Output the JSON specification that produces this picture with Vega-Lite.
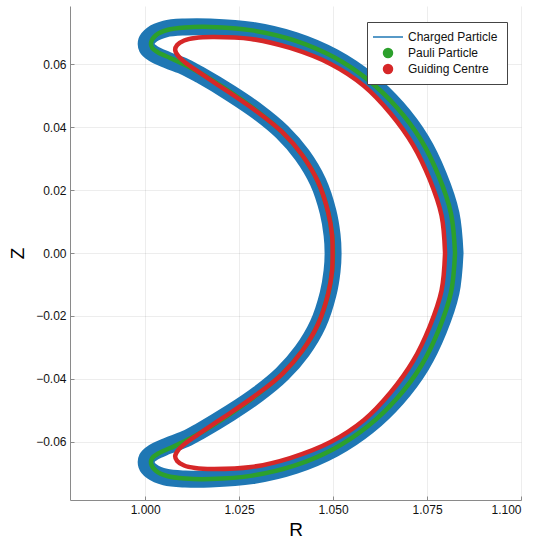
{
  "$schema": "https://vega.github.io/schema/vega-lite/v6.json",
  "width": 451,
  "height": 494,
  "autosize": {"type": "none"},
  "padding": {"left": 70, "top": 6, "right": 18, "bottom": 39},
  "background": "white",
  "config": {
    "view": {"stroke": null},
    "font": "Liberation Sans",
    "axis": {
      "domainColor": "#8a8a8a",
      "tickColor": "#8a8a8a",
      "tickSize": -4,
      "gridColor": "#000000",
      "gridOpacity": 0.07,
      "labelFont": "Liberation Sans",
      "labelFontSize": 12,
      "labelColor": "#111111",
      "titleFont": "Liberation Sans",
      "titleFontSize": 19,
      "titleFontWeight": "normal",
      "titleColor": "#000000"
    }
  },
  "data": {
    "values": [
      {"s":"Charged Particle","i":0,"R":1.08245,"Z":0},
      {"s":"Charged Particle","i":1,"R":1.08138,"Z":0.01251},
      {"s":"Charged Particle","i":2,"R":1.07806,"Z":0.0246},
      {"s":"Charged Particle","i":3,"R":1.0734,"Z":0.03596},
      {"s":"Charged Particle","i":4,"R":1.06702,"Z":0.04624},
      {"s":"Charged Particle","i":5,"R":1.05931,"Z":0.05509},
      {"s":"Charged Particle","i":6,"R":1.05027,"Z":0.06229},
      {"s":"Charged Particle","i":7,"R":1.03989,"Z":0.0676},
      {"s":"Charged Particle","i":8,"R":1.02846,"Z":0.07085},
      {"s":"Charged Particle","i":9,"R":1.01729,"Z":0.07193},
      {"s":"Charged Particle","i":10,"R":1.01064,"Z":0.07193},
      {"s":"Charged Particle","i":11,"R":1.00532,"Z":0.07129},
      {"s":"Charged Particle","i":12,"R":1.00186,"Z":0.06954},
      {"s":"Charged Particle","i":13,"R":1.0004,"Z":0.06747},
      {"s":"Charged Particle","i":14,"R":1.00053,"Z":0.06525},
      {"s":"Charged Particle","i":15,"R":1.00213,"Z":0.0635},
      {"s":"Charged Particle","i":16,"R":1.00585,"Z":0.06143},
      {"s":"Charged Particle","i":17,"R":1.01064,"Z":0.0592},
      {"s":"Charged Particle","i":18,"R":1.01463,"Z":0.05665},
      {"s":"Charged Particle","i":19,"R":1.02261,"Z":0.05092},
      {"s":"Charged Particle","i":20,"R":1.03005,"Z":0.04488},
      {"s":"Charged Particle","i":21,"R":1.03644,"Z":0.03851},
      {"s":"Charged Particle","i":22,"R":1.04176,"Z":0.03119},
      {"s":"Charged Particle","i":23,"R":1.04601,"Z":0.0226},
      {"s":"Charged Particle","i":24,"R":1.04867,"Z":0.01305},
      {"s":"Charged Particle","i":25,"R":1.04973,"Z":0.00573},
      {"s":"Charged Particle","i":26,"R":1.05,"Z":0},
      {"s":"Charged Particle","i":27,"R":1.04973,"Z":-0.00573},
      {"s":"Charged Particle","i":28,"R":1.04867,"Z":-0.01305},
      {"s":"Charged Particle","i":29,"R":1.04601,"Z":-0.0226},
      {"s":"Charged Particle","i":30,"R":1.04176,"Z":-0.03119},
      {"s":"Charged Particle","i":31,"R":1.03644,"Z":-0.03851},
      {"s":"Charged Particle","i":32,"R":1.03005,"Z":-0.04488},
      {"s":"Charged Particle","i":33,"R":1.02261,"Z":-0.05092},
      {"s":"Charged Particle","i":34,"R":1.01463,"Z":-0.05665},
      {"s":"Charged Particle","i":35,"R":1.01064,"Z":-0.0592},
      {"s":"Charged Particle","i":36,"R":1.00585,"Z":-0.06143},
      {"s":"Charged Particle","i":37,"R":1.00213,"Z":-0.0635},
      {"s":"Charged Particle","i":38,"R":1.00053,"Z":-0.06525},
      {"s":"Charged Particle","i":39,"R":1.0004,"Z":-0.06747},
      {"s":"Charged Particle","i":40,"R":1.00186,"Z":-0.06954},
      {"s":"Charged Particle","i":41,"R":1.00532,"Z":-0.07129},
      {"s":"Charged Particle","i":42,"R":1.01064,"Z":-0.07193},
      {"s":"Charged Particle","i":43,"R":1.01729,"Z":-0.07193},
      {"s":"Charged Particle","i":44,"R":1.02846,"Z":-0.07085},
      {"s":"Charged Particle","i":45,"R":1.03989,"Z":-0.0676},
      {"s":"Charged Particle","i":46,"R":1.05027,"Z":-0.06229},
      {"s":"Charged Particle","i":47,"R":1.05931,"Z":-0.05509},
      {"s":"Charged Particle","i":48,"R":1.06702,"Z":-0.04624},
      {"s":"Charged Particle","i":49,"R":1.0734,"Z":-0.03596},
      {"s":"Charged Particle","i":50,"R":1.07806,"Z":-0.0246},
      {"s":"Charged Particle","i":51,"R":1.08138,"Z":-0.01251},
      {"s":"Charged Particle","i":52,"R":1.08245,"Z":0},

      {"s":"Pauli Particle","i":0,"R":1.08245,"Z":0},
      {"s":"Pauli Particle","i":1,"R":1.08138,"Z":0.01251},
      {"s":"Pauli Particle","i":2,"R":1.07806,"Z":0.0246},
      {"s":"Pauli Particle","i":3,"R":1.0734,"Z":0.03596},
      {"s":"Pauli Particle","i":4,"R":1.06702,"Z":0.04624},
      {"s":"Pauli Particle","i":5,"R":1.05931,"Z":0.05509},
      {"s":"Pauli Particle","i":6,"R":1.05027,"Z":0.06229},
      {"s":"Pauli Particle","i":7,"R":1.03989,"Z":0.0676},
      {"s":"Pauli Particle","i":8,"R":1.02846,"Z":0.07085},
      {"s":"Pauli Particle","i":9,"R":1.01729,"Z":0.07193},
      {"s":"Pauli Particle","i":10,"R":1.01064,"Z":0.07177},
      {"s":"Pauli Particle","i":11,"R":1.00585,"Z":0.07097},
      {"s":"Pauli Particle","i":12,"R":1.00293,"Z":0.06938},
      {"s":"Pauli Particle","i":13,"R":1.0016,"Z":0.06716},
      {"s":"Pauli Particle","i":14,"R":1.00186,"Z":0.06525},
      {"s":"Pauli Particle","i":15,"R":1.00346,"Z":0.06381},
      {"s":"Pauli Particle","i":16,"R":1.00665,"Z":0.06206},
      {"s":"Pauli Particle","i":17,"R":1.01064,"Z":0.05984},
      {"s":"Pauli Particle","i":18,"R":1.01463,"Z":0.05729},
      {"s":"Pauli Particle","i":19,"R":1.02261,"Z":0.05124},
      {"s":"Pauli Particle","i":20,"R":1.03005,"Z":0.04488},
      {"s":"Pauli Particle","i":21,"R":1.03644,"Z":0.03851},
      {"s":"Pauli Particle","i":22,"R":1.04176,"Z":0.03119},
      {"s":"Pauli Particle","i":23,"R":1.04601,"Z":0.0226},
      {"s":"Pauli Particle","i":24,"R":1.04867,"Z":0.01305},
      {"s":"Pauli Particle","i":25,"R":1.04973,"Z":0.00573},
      {"s":"Pauli Particle","i":26,"R":1.05,"Z":0},
      {"s":"Pauli Particle","i":27,"R":1.04973,"Z":-0.00573},
      {"s":"Pauli Particle","i":28,"R":1.04867,"Z":-0.01305},
      {"s":"Pauli Particle","i":29,"R":1.04601,"Z":-0.0226},
      {"s":"Pauli Particle","i":30,"R":1.04176,"Z":-0.03119},
      {"s":"Pauli Particle","i":31,"R":1.03644,"Z":-0.03851},
      {"s":"Pauli Particle","i":32,"R":1.03005,"Z":-0.04488},
      {"s":"Pauli Particle","i":33,"R":1.02261,"Z":-0.05124},
      {"s":"Pauli Particle","i":34,"R":1.01463,"Z":-0.05729},
      {"s":"Pauli Particle","i":35,"R":1.01064,"Z":-0.05984},
      {"s":"Pauli Particle","i":36,"R":1.00665,"Z":-0.06206},
      {"s":"Pauli Particle","i":37,"R":1.00346,"Z":-0.06381},
      {"s":"Pauli Particle","i":38,"R":1.00186,"Z":-0.06525},
      {"s":"Pauli Particle","i":39,"R":1.0016,"Z":-0.06716},
      {"s":"Pauli Particle","i":40,"R":1.00293,"Z":-0.06938},
      {"s":"Pauli Particle","i":41,"R":1.00585,"Z":-0.07097},
      {"s":"Pauli Particle","i":42,"R":1.01064,"Z":-0.07177},
      {"s":"Pauli Particle","i":43,"R":1.01729,"Z":-0.07193},
      {"s":"Pauli Particle","i":44,"R":1.02846,"Z":-0.07085},
      {"s":"Pauli Particle","i":45,"R":1.03989,"Z":-0.0676},
      {"s":"Pauli Particle","i":46,"R":1.05027,"Z":-0.06229},
      {"s":"Pauli Particle","i":47,"R":1.05931,"Z":-0.05509},
      {"s":"Pauli Particle","i":48,"R":1.06702,"Z":-0.04624},
      {"s":"Pauli Particle","i":49,"R":1.0734,"Z":-0.03596},
      {"s":"Pauli Particle","i":50,"R":1.07806,"Z":-0.0246},
      {"s":"Pauli Particle","i":51,"R":1.08138,"Z":-0.01251},
      {"s":"Pauli Particle","i":52,"R":1.08245,"Z":0},

      {"s":"Guiding Centre","i":0,"R":1.07979,"Z":0},
      {"s":"Guiding Centre","i":1,"R":1.07886,"Z":0.01194},
      {"s":"Guiding Centre","i":2,"R":1.07566,"Z":0.02355},
      {"s":"Guiding Centre","i":3,"R":1.07128,"Z":0.03437},
      {"s":"Guiding Centre","i":4,"R":1.06529,"Z":0.0444},
      {"s":"Guiding Centre","i":5,"R":1.05824,"Z":0.05315},
      {"s":"Guiding Centre","i":6,"R":1.04934,"Z":0.06015},
      {"s":"Guiding Centre","i":7,"R":1.03856,"Z":0.06525},
      {"s":"Guiding Centre","i":8,"R":1.02819,"Z":0.06811},
      {"s":"Guiding Centre","i":9,"R":1.01782,"Z":0.06875},
      {"s":"Guiding Centre","i":10,"R":1.0133,"Z":0.06843},
      {"s":"Guiding Centre","i":11,"R":1.01037,"Z":0.06763},
      {"s":"Guiding Centre","i":12,"R":1.00851,"Z":0.0662},
      {"s":"Guiding Centre","i":13,"R":1.00798,"Z":0.06461},
      {"s":"Guiding Centre","i":14,"R":1.00878,"Z":0.0627},
      {"s":"Guiding Centre","i":15,"R":1.01064,"Z":0.06063},
      {"s":"Guiding Centre","i":16,"R":1.01383,"Z":0.05793},
      {"s":"Guiding Centre","i":17,"R":1.01835,"Z":0.05427},
      {"s":"Guiding Centre","i":18,"R":1.02261,"Z":0.05092},
      {"s":"Guiding Centre","i":19,"R":1.03005,"Z":0.04472},
      {"s":"Guiding Centre","i":20,"R":1.03644,"Z":0.03851},
      {"s":"Guiding Centre","i":21,"R":1.04176,"Z":0.03119},
      {"s":"Guiding Centre","i":22,"R":1.04601,"Z":0.0226},
      {"s":"Guiding Centre","i":23,"R":1.04867,"Z":0.01305},
      {"s":"Guiding Centre","i":24,"R":1.04973,"Z":0.00573},
      {"s":"Guiding Centre","i":25,"R":1.04987,"Z":0},
      {"s":"Guiding Centre","i":26,"R":1.04973,"Z":-0.00573},
      {"s":"Guiding Centre","i":27,"R":1.04867,"Z":-0.01305},
      {"s":"Guiding Centre","i":28,"R":1.04601,"Z":-0.0226},
      {"s":"Guiding Centre","i":29,"R":1.04176,"Z":-0.03119},
      {"s":"Guiding Centre","i":30,"R":1.03644,"Z":-0.03851},
      {"s":"Guiding Centre","i":31,"R":1.03005,"Z":-0.04472},
      {"s":"Guiding Centre","i":32,"R":1.02261,"Z":-0.05092},
      {"s":"Guiding Centre","i":33,"R":1.01835,"Z":-0.05427},
      {"s":"Guiding Centre","i":34,"R":1.01383,"Z":-0.05793},
      {"s":"Guiding Centre","i":35,"R":1.01064,"Z":-0.06063},
      {"s":"Guiding Centre","i":36,"R":1.00878,"Z":-0.0627},
      {"s":"Guiding Centre","i":37,"R":1.00798,"Z":-0.06461},
      {"s":"Guiding Centre","i":38,"R":1.00851,"Z":-0.0662},
      {"s":"Guiding Centre","i":39,"R":1.01037,"Z":-0.06763},
      {"s":"Guiding Centre","i":40,"R":1.0133,"Z":-0.06843},
      {"s":"Guiding Centre","i":41,"R":1.01782,"Z":-0.06875},
      {"s":"Guiding Centre","i":42,"R":1.02819,"Z":-0.06811},
      {"s":"Guiding Centre","i":43,"R":1.03856,"Z":-0.06525},
      {"s":"Guiding Centre","i":44,"R":1.04934,"Z":-0.06015},
      {"s":"Guiding Centre","i":45,"R":1.05824,"Z":-0.05315},
      {"s":"Guiding Centre","i":46,"R":1.06529,"Z":-0.0444},
      {"s":"Guiding Centre","i":47,"R":1.07128,"Z":-0.03437},
      {"s":"Guiding Centre","i":48,"R":1.07566,"Z":-0.02355},
      {"s":"Guiding Centre","i":49,"R":1.07886,"Z":-0.01194},
      {"s":"Guiding Centre","i":50,"R":1.07979,"Z":0}
    ]
  },
  "encoding": {
    "x": {
      "field": "R", "type": "quantitative",
      "scale": {"domain": [0.98, 1.1], "nice": false, "zero": false},
      "axis": {"title": "R", "values": [1, 1.025, 1.05, 1.075, 1.1], "format": ".3f", "labelPadding": 8, "titlePadding": 5}
    },
    "y": {
      "field": "Z", "type": "quantitative",
      "scale": {"domain": [-0.0786, 0.0786], "nice": false, "zero": false},
      "axis": {"title": "Z", "values": [-0.06, -0.04, -0.02, 0, 0.02, 0.04, 0.06], "format": ".2f", "labelPadding": 8, "titlePadding": 8}
    },
    "order": {"field": "i", "type": "quantitative"},
    "color": {
      "field": "s", "type": "nominal",
      "scale": {"domain": ["Charged Particle", "Pauli Particle", "Guiding Centre"], "range": ["#1f77b4", "#2ca02c", "#d62728"]},
      "legend": {
        "title": null,
        "orient": "none",
        "legendX": 297,
        "legendY": 16,
        "padding": 9,
        "strokeColor": "#444444",
        "fillColor": "white",
        "labelFont": "Liberation Sans",
        "labelFontSize": 12,
        "labelColor": "#111111",
        "labelOffset": 14,
        "symbolOffset": 6,
        "symbolSize": 110,
        "symbolStrokeWidth": 1.5,
        "rowPadding": 4,
        "encode": {
          "symbols": {
            "update": {
              "shape": {"signal": "datum.value === 'Charged Particle' ? 'stroke' : 'circle'"},
              "size": {"signal": "datum.value === 'Charged Particle' ? 900 : 110"},
              "fill": {"signal": "datum.value === 'Pauli Particle' ? '#2ca02c' : datum.value === 'Guiding Centre' ? '#d62728' : 'transparent'"},
              "fillOpacity": {"value": 1},
              "strokeWidth": {"signal": "datum.value === 'Charged Particle' ? 1.5 : 0"}
            }
          }
        }
      }
    }
  },
  "layer": [
    {
      "transform": [{"filter": "datum.s === 'Charged Particle'"}],
      "mark": {"type": "line", "strokeWidth": 17, "interpolate": "catmull-rom", "strokeJoin": "round", "strokeCap": "round"}
    },
    {
      "transform": [{"filter": "datum.s === 'Pauli Particle'"}],
      "mark": {"type": "line", "strokeWidth": 4.5, "interpolate": "catmull-rom", "strokeJoin": "round", "strokeCap": "round"}
    },
    {
      "transform": [{"filter": "datum.s === 'Guiding Centre'"}],
      "mark": {"type": "line", "strokeWidth": 4.5, "interpolate": "catmull-rom", "strokeJoin": "round", "strokeCap": "round"}
    }
  ]
}
